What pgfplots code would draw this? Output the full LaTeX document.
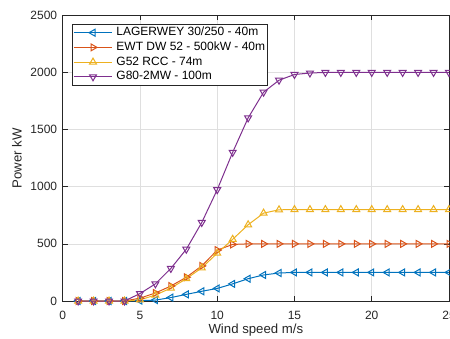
\documentclass[border=0pt]{standalone}
\usepackage{fontspec}
\setmainfont{Liberation Sans}
\usepackage{pgfplots}
\pgfplotsset{compat=1.18}
\definecolor{mblue}{rgb}{0,0.447,0.741}
\definecolor{morange}{rgb}{0.85,0.325,0.098}
\definecolor{myellow}{rgb}{0.929,0.694,0.125}
\definecolor{mpurple}{rgb}{0.494,0.184,0.556}
\definecolor{axgray}{RGB}{38,38,38}
\definecolor{gridgray}{RGB}{223,223,223}
\pgfplotsset{
  mylegimg/.style={legend image code/.code={%
    \draw[mark repeat=2,mark phase=2,##1] plot coordinates {(0pt,0pt) (19.15pt,0pt) (38.3pt,0pt)};}},
}
\begin{document}
\begin{tikzpicture}
\begin{axis}[
  at={(0,0)}, anchor=south west,
  scale only axis, width=386.3pt, height=285.7pt,
  xmin=0, xmax=25, ymin=0, ymax=2500,
  xtick={0,5,...,25}, ytick={0,500,...,2500},
  /pgf/number format/assume math mode=true,
  /pgf/number format/set thousands separator={},
  tick align=inside, major tick length=5pt,
  grid=major, major grid style={gridgray, line width=0.6pt},
  axis line style={axgray, line width=0.7pt},
  tick style={axgray, line width=0.7pt},
  tick label style={font=\fontsize{12}{14}\selectfont, text=axgray},
  xticklabel style={yshift=-6.5pt},
  yticklabel style={xshift=-2pt},
  xlabel={Wind speed m/s}, ylabel={Power kW},
  label style={font=\fontsize{13.2}{15}\selectfont, text=axgray},
  xlabel style={at={(axis description cs:0.5,-0.1131)}, anchor=base, inner sep=0pt},
  ylabel style={at={(axis description cs:-0.1061,0.5)}, anchor=base, rotate=0, inner sep=0pt},
  mylegimg,
  legend cell align=left,
  legend style={at={(axis description cs:0.0249,0.9685)}, anchor=north west,
    draw=axgray, line width=0.7pt, fill=white, inner sep=0.7pt, row sep=0pt, column sep=2pt,
    font=\fontsize{12}{14}\selectfont, text=black,
    nodes={inner sep=1.8pt, text height=8.6pt, text depth=2.5pt}},
  every axis plot/.append style={line width=1pt, mark size=4pt},
]
\addplot[mblue, mark=triangle, mark options={rotate=90, solid}] coordinates {
(1,0) (2,0) (3,0) (4,0) (5,3) (6,8) (7,30) (8,58) (9,85) (10,110) (11,150) (12,195) (13,228) (14,245) (15,250) (16,250) (17,250) (18,250) (19,250) (20,250) (21,250) (22,250) (23,250) (24,250) (25,250)};
\addlegendentry{LAGERWEY 30/250 - 40m}
\addplot[morange, mark=triangle, mark options={rotate=-90, solid}] coordinates {
(1,0) (2,0) (3,0) (4,0) (5,25) (6,70) (7,131) (8,208) (9,307) (10,445) (11,495) (12,500) (13,500) (14,500) (15,500) (16,500) (17,500) (18,500) (19,500) (20,500) (21,500) (22,500) (23,500) (24,500) (25,500)};
\addlegendentry{EWT DW 52 - 500kW - 40m}
\addplot[myellow, mark=triangle, mark options={solid}] coordinates {
(1,0) (2,0) (3,0) (4,0) (5,10) (6,52) (7,113) (8,195) (9,290) (10,418) (11,540) (12,667) (13,769) (14,798) (15,800) (16,800) (17,800) (18,800) (19,800) (20,800) (21,800) (22,800) (23,800) (24,800) (25,800)};
\addlegendentry{G52 RCC - 74m}
\addplot[mpurple, mark=triangle, mark options={rotate=180, solid}] coordinates {
(1,0) (2,0) (3,0) (4,0) (5,65) (6,150) (7,285) (8,453) (9,687) (10,974) (11,1301) (12,1602) (13,1827) (14,1932) (15,1982) (16,1995) (17,2000) (18,2000) (19,2000) (20,2000) (21,2000) (22,2000) (23,2000) (24,2000) (25,2000)};
\addlegendentry{G80-2MW - 100m}
\end{axis}
\pgfresetboundingbox
\useasboundingbox (-62.7pt,-37pt) rectangle (387.3pt,301pt);
\end{tikzpicture}
\end{document}
